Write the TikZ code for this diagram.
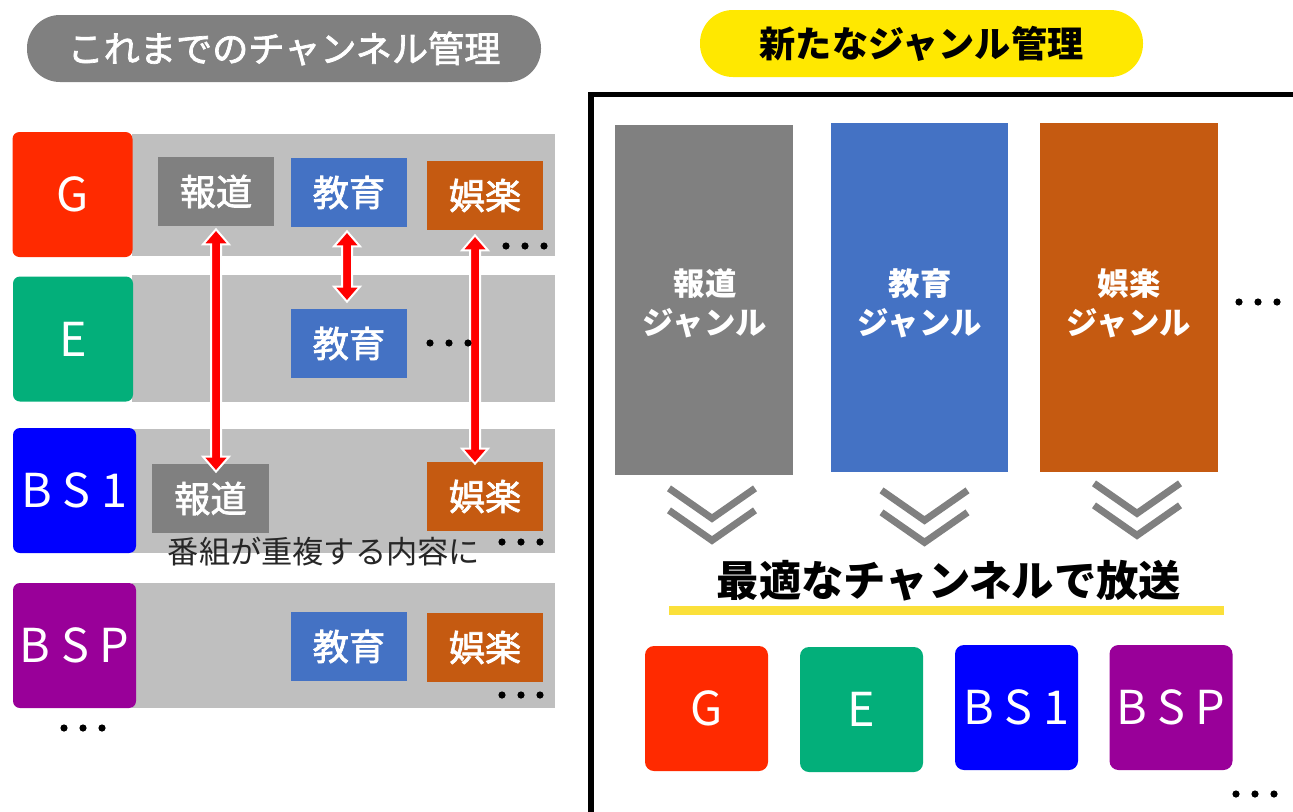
\documentclass[tikz,border=0pt]{standalone}
\usepackage{fontspec}
\setmainfont{Noto Sans CJK JP}
\newfontfamily\jpm[FakeBold=2]{Noto Sans CJK JP}
\usetikzlibrary{calc}
\newdimen\pxu \pxu=0.5669pt
\definecolor{cgray}{HTML}{808080}
\definecolor{cband}{HTML}{BFBFBF}
\definecolor{cblue}{HTML}{4472C4}
\definecolor{corange}{HTML}{C55A11}
\definecolor{cred}{HTML}{FF2A00}
\definecolor{cgreen}{HTML}{03AF7A}
\definecolor{cbs}{HTML}{0000FF}
\definecolor{cpurple}{HTML}{990099}
\definecolor{cyellow}{HTML}{FFE800}
\definecolor{cline}{HTML}{FBE03A}
\definecolor{ctext}{HTML}{262626}
\tikzset{
  pill/.style={minimum height=67\pxu, rounded corners=33\pxu, inner sep=0pt},
  band/.style={fill=cband, minimum width=423\pxu, inner sep=0pt},
  chan/.style={minimum width=120\pxu, minimum height=125\pxu, rounded corners=7\pxu, inner sep=0pt, text=white, font=\fontsize{26.5}{30}\selectfont},
  box/.style={minimum width=116\pxu, minimum height=69\pxu, inner sep=0pt, text=white, font=\jpm\fontsize{20.5}{24}\selectfont},
  genre/.style={minimum width=178\pxu, minimum height=350\pxu, inner sep=0pt},
  gtext/.style={inner sep=0pt, text=white, align=center, font=\bfseries\fontsize{17.8}{22.3}\selectfont},
  arrowst/.style={fill=red, draw=white, line width=2\pxu, line join=miter},
  redarrow/.style={to path={let \p1=(\tikztostart), \p2=(\tikztotarget) in
    (\x1,\y1) -- (\x1+13\pxu,\y1-15\pxu) -- (\x1+5\pxu,\y1-15\pxu) -- (\x1+5\pxu,\y2+15\pxu)
    -- (\x1+13\pxu,\y2+15\pxu) -- (\x1,\y2) -- (\x1-13\pxu,\y2+15\pxu) -- (\x1-5\pxu,\y2+15\pxu)
    -- (\x1-5\pxu,\y1-15\pxu) -- (\x1-13\pxu,\y1-15\pxu) -- cycle}},
  chev/.style={draw=cgray, line width=7\pxu, line join=miter},
  chevron/.pic={\draw[chev] (-43,0) -- (0,30) -- (43,0); \draw[chev] (-43,22) -- (0,52) -- (43,22);},
  threedots/.pic={\foreach \i in {-1,0,1} \fill[black] (\i*19,0) circle[radius=3.6\pxu];}
}
\begin{document}
\begin{tikzpicture}[x=0.5669pt, y=-0.5669pt]
\useasboundingbox (0,0) rectangle (1293,812);
\fill[white] (0,0) rectangle (1293,812);
\clip (0,0) rectangle (1293,812);

% titles
\node[pill, fill=cgray, minimum width=514\pxu, text=white, font=\jpm\fontsize{20.5}{24}\selectfont] (titleL) at (284,48.5) {これまでのチャンネル管理};
\node[pill, fill=cyellow, minimum width=443\pxu, text=black, font=\bfseries\fontsize{20.5}{24}\selectfont] (titleR) at (921.5,43.5) {新たなジャンル管理};

% bands
\node[band, minimum height=122\pxu] (bandG) at (343.5,195) {};
\node[band, minimum height=127\pxu] (bandE) at (343.5,338.5) {};
\node[band, minimum height=124\pxu] (bandB) at (343.5,491) {};
\node[band, minimum height=125\pxu] (bandP) at (343.5,645.5) {};

% channels (left)
\node[chan, fill=cred] (chG) at (72.5,194.5) {G};
\node[chan, fill=cgreen] (chE) at (73,339) {E};
\node[chan, fill=cbs, minimum width=123\pxu] (chB) at (74.5,490.5) {B S 1};
\node[chan, fill=cpurple, minimum width=123\pxu] (chP) at (74.5,645.5) {B S P};

% programme boxes
\node[box, fill=cgray] (hG) at (216,191.5) {報道};
\node[box, fill=cblue] (kG) at (349,192.5) {教育};
\node[box, fill=corange] (gG) at (485,195.5) {娯楽};
\node[box, fill=cblue] (kE) at (349,343.5) {教育};
\node[box, fill=cgray, minimum width=117\pxu] (hB) at (210.5,498.5) {報道};
\node[box, fill=corange] (gB) at (485,496.5) {娯楽};
\node[box, fill=cblue] (kP) at (349,646.5) {教育};
\node[box, fill=corange] (gP) at (485,647.5) {娯楽};

% arrows
\coordinate (a1t) at ($(hG.south)+(0,3)$);
\coordinate (a1b) at ($(hG.south |- hB.north)+(0,8)$);
\coordinate (a2t) at ($(kG.south)+(-2,4)$);
\coordinate (a2b) at ($(kG.south |- kE.north)+(-2,-7)$);
\coordinate (a3t) at ($(gG.south)+(-10,5)$);
\coordinate (a3b) at ($(gG.south |- gB.north)+(-10,2)$);
\filldraw[arrowst] (a1t) to[redarrow] (a1b);
\filldraw[arrowst] (a2t) to[redarrow] (a2b);
\filldraw[arrowst] (a3t) to[redarrow] (a3b);

\node[font=\fontsize{17.7}{20}\selectfont, text=ctext, inner sep=0pt] (dup) at (324,552) {番組が重複する内容に};

% dots
\pic at (525,246) {threedots};
\pic at (449,343) {threedots};
\pic at (521,542) {threedots};
\pic at (521,695) {threedots};
\pic at (83,728) {threedots};
\pic at (1258,302) {threedots};
\pic at (1255,794) {threedots};

% right frame
\draw[line width=5.5\pxu, line join=miter] (591,900) -- (591,94.5) -- (1400,94.5);

% genre columns
\node[genre, fill=cgray] (colH) at (704,300) {};
\node[genre, fill=cblue, minimum width=177\pxu, minimum height=349\pxu] (colK) at (919.5,297.5) {};
\node[genre, fill=corange, minimum height=349\pxu] (colG) at (1129,297.5) {};
\node[gtext] (colHt) at (705,303) {報道\\ジャンル};
\node[gtext] (colKt) at (920,303) {教育\\ジャンル};
\node[gtext] (colGt) at (1129,303) {娯楽\\ジャンル};

\pic at ($(colH.south)+(8,13)$) {chevron};
\pic at ($(colK.south)+(5,18)$) {chevron};
\pic at ($(colG.south)+(8,11)$) {chevron};

\node[font=\bfseries\fontsize{24}{28}\selectfont, inner sep=0pt] (opt) at (949,581) {最適なチャンネルで放送};
\node[fill=cline, minimum width=555\pxu, minimum height=9\pxu, inner sep=0pt] (uline) at (946.5,610.5) {};

% channels (right)
\node[chan, fill=cred, minimum width=123\pxu, rounded corners=9\pxu] (rG) at (706.5,708.5) {G};
\node[chan, fill=cgreen, minimum width=123\pxu, rounded corners=9\pxu] (rE) at (861.5,709.5) {E};
\node[chan, fill=cbs, minimum width=123\pxu, rounded corners=9\pxu] (rB) at (1016.5,707.5) {B S 1};
\node[chan, fill=cpurple, minimum width=123\pxu, rounded corners=9\pxu] (rP) at (1171,707.5) {B S P};
\end{tikzpicture}
\end{document}
